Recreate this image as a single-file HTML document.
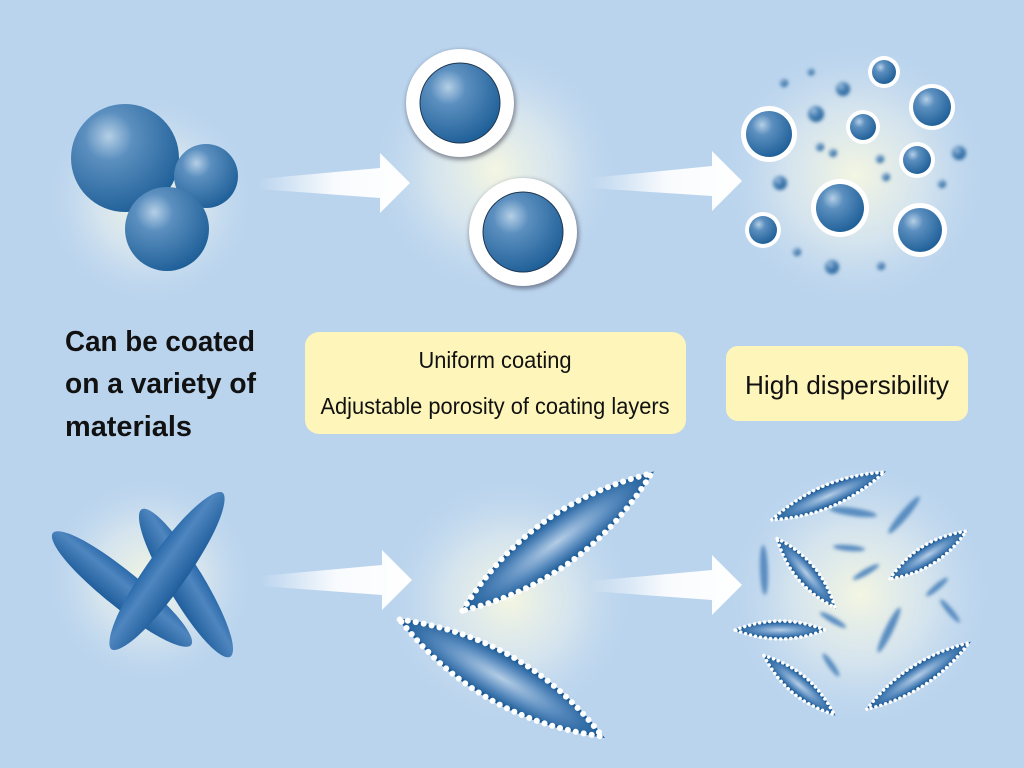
<!DOCTYPE html>
<html><head><meta charset="utf-8"><style>
html,body{margin:0;padding:0;width:1024px;height:768px;overflow:hidden;background:#bad4ee}
svg{display:block}
text{font-family:"Liberation Sans",sans-serif}
</style></head><body>
<svg width="1024" height="768" viewBox="0 0 1024 768" xmlns="http://www.w3.org/2000/svg">
<defs>
<radialGradient id="sph" cx="0.35" cy="0.3" r="0.75">
<stop offset="0" stop-color="#b5cfe6"/><stop offset="0.3" stop-color="#5b8fbf"/><stop offset="1" stop-color="#1d5e97"/>
</radialGradient>
<radialGradient id="rod" cx="0.5" cy="0.5" r="0.5">
<stop offset="0" stop-color="#b4cde6"/><stop offset="0.55" stop-color="#5b8dc0"/><stop offset="1" stop-color="#1c5c98"/>
</radialGradient>
<linearGradient id="rodb" x1="0" y1="0" x2="0" y2="1">
<stop offset="0" stop-color="#2a6aab"/><stop offset="0.35" stop-color="#4f86bf"/><stop offset="1" stop-color="#1f5e9c"/>
</linearGradient>
<radialGradient id="glow" cx="0.5" cy="0.5" r="0.5">
<stop offset="0" stop-color="#f4f6e2"/><stop offset="0.5" stop-color="#dfeaee" stop-opacity="0.7"/><stop offset="1" stop-color="#bad4ee" stop-opacity="0"/>
</radialGradient>
<linearGradient id="arr" x1="0" x2="1" y1="0" y2="0">
<stop offset="0" stop-color="#fff" stop-opacity="0"/><stop offset="0.5" stop-color="#fff" stop-opacity="0.9"/><stop offset="1" stop-color="#fff"/>
</linearGradient>
<filter id="bl" x="-50%" y="-50%" width="200%" height="200%"><feGaussianBlur stdDeviation="1.8"/></filter>
<filter id="sh" x="-30%" y="-30%" width="160%" height="160%"><feGaussianBlur stdDeviation="2"/></filter>
</defs>

<circle cx="150" cy="200" r="110" fill="url(#glow)"/>
<circle cx="495" cy="170" r="130" fill="url(#glow)"/>
<circle cx="855" cy="175" r="140" fill="url(#glow)"/>
<circle cx="150" cy="580" r="110" fill="url(#glow)"/>
<circle cx="510" cy="600" r="130" fill="url(#glow)"/>
<circle cx="860" cy="595" r="140" fill="url(#glow)"/>

<g fill="url(#arr)">
<polygon points="258,179 380,168 380,153 410,183 380,213 380,198 258,189"/>
<polygon points="590,178 712,166 712,151 742,181 712,211 712,196 590,188"/>
<polygon points="260,576 382,565 382,550 412,580 382,610 382,595 260,586"/>
<polygon points="590,581 712,570 712,555 742,585 712,615 712,600 590,591"/>
</g>

<circle cx="125" cy="158" r="54" fill="url(#sph)"/>
<circle cx="206" cy="176" r="32" fill="url(#sph)"/>
<circle cx="167" cy="229" r="42" fill="url(#sph)"/>

<g>
<circle cx="461" cy="105" r="55" fill="#334" filter="url(#sh)" opacity="0.5"/>
<circle cx="460" cy="103" r="54" fill="#fff"/>
<circle cx="460" cy="103" r="40.5" fill="#1d3550"/>
<circle cx="460" cy="103" r="39.5" fill="url(#sph)"/>
<circle cx="524" cy="234" r="55" fill="#334" filter="url(#sh)" opacity="0.5"/>
<circle cx="523" cy="232" r="54" fill="#fff"/>
<circle cx="523" cy="232" r="40.5" fill="#1d3550"/>
<circle cx="523" cy="232" r="39.5" fill="url(#sph)"/>
</g>

<g fill="url(#sph)" filter="url(#bl)">
<circle cx="811" cy="72" r="3.5"/><circle cx="784" cy="83" r="4"/><circle cx="843" cy="89" r="7"/>
<circle cx="816" cy="114" r="8"/><circle cx="820" cy="147" r="4"/><circle cx="833" cy="153" r="4"/>
<circle cx="880" cy="159" r="4"/><circle cx="886" cy="177" r="4"/><circle cx="959" cy="153" r="7"/>
<circle cx="942" cy="184" r="4"/><circle cx="780" cy="183" r="7"/><circle cx="797" cy="252" r="4"/>
<circle cx="832" cy="267" r="7"/><circle cx="881" cy="266" r="4"/>
</g>
<g>
<circle cx="769" cy="134" r="28" fill="#fff"/><circle cx="769" cy="134" r="23" fill="url(#sph)"/>
<circle cx="884" cy="72" r="16" fill="#fff"/><circle cx="884" cy="72" r="12" fill="url(#sph)"/>
<circle cx="932" cy="107" r="23" fill="#fff"/><circle cx="932" cy="107" r="19" fill="url(#sph)"/>
<circle cx="863" cy="127" r="17" fill="#fff"/><circle cx="863" cy="127" r="13" fill="url(#sph)"/>
<circle cx="917" cy="160" r="18" fill="#fff"/><circle cx="917" cy="160" r="14" fill="url(#sph)"/>
<circle cx="840" cy="208" r="29" fill="#fff"/><circle cx="840" cy="208" r="24" fill="url(#sph)"/>
<circle cx="920" cy="230" r="27" fill="#fff"/><circle cx="920" cy="230" r="22" fill="url(#sph)"/>
<circle cx="763" cy="230" r="18" fill="#fff"/><circle cx="763" cy="230" r="14" fill="url(#sph)"/>
</g>

<g font-weight="bold" font-size="29" fill="#111">
<text x="65" y="351" textLength="190" lengthAdjust="spacingAndGlyphs">Can be coated</text>
<text x="65" y="393" textLength="191" lengthAdjust="spacingAndGlyphs">on a variety of</text>
<text x="65" y="436" textLength="127" lengthAdjust="spacingAndGlyphs">materials</text>
</g>
<rect x="305" y="332" width="381" height="102" rx="14" fill="#fdf5b9"/>
<text x="495" y="368" font-size="23" text-anchor="middle" fill="#111" textLength="153" lengthAdjust="spacingAndGlyphs">Uniform coating</text>
<text x="495" y="414" font-size="23" text-anchor="middle" fill="#111" textLength="349" lengthAdjust="spacingAndGlyphs">Adjustable porosity of coating layers</text>
<rect x="726" y="346" width="242" height="75" rx="12" fill="#fdf5b9"/>
<text x="847" y="394" font-size="26" text-anchor="middle" fill="#111" textLength="204" lengthAdjust="spacingAndGlyphs">High dispersibility</text>

<g fill="url(#rodb)">
<path transform="translate(122 589) rotate(39)" d="M-89,0 C-89,-8 -62,-18 0,-18 C62,-18 89,-8 89,0 C89,8 62,18 0,18 C-62,18 -89,8 -89,0Z"/>
<path transform="translate(186 583) rotate(59)" d="M-86,0 C-86,-8 -60,-18 0,-18 C60,-18 86,-8 86,0 C86,8 60,18 0,18 C-60,18 -86,8 -86,0Z"/>
<path transform="translate(167 571) rotate(-54.7)" d="M-96,0 C-96,-8 -66,-20 0,-20 C66,-20 96,-8 96,0 C96,8 66,20 0,20 C-66,20 -96,8 -96,0Z"/>
</g>

<g>
<g transform="translate(557 542) rotate(-36)">
<path d="M-116,0 Q-58,-23 0,-23 Q58,-23 116,0 Q58,23 0,23 Q-58,23 -116,0Z" fill="url(#rod)" stroke="#1c5a97" stroke-width="3"/>
<path d="M-117,0 Q-58,-24 0,-24 Q58,-24 117,0 Q58,24 0,24 Q-58,24 -117,0Z" fill="none" stroke="#fff" stroke-width="6" stroke-dasharray="0.1 8" stroke-linecap="round"/>
</g>
<g transform="translate(501 678) rotate(30)">
<path d="M-116,0 Q-58,-23 0,-23 Q58,-23 116,0 Q58,23 0,23 Q-58,23 -116,0Z" fill="url(#rod)" stroke="#1c5a97" stroke-width="3"/>
<path d="M-117,0 Q-58,-24 0,-24 Q58,-24 117,0 Q58,24 0,24 Q-58,24 -117,0Z" fill="none" stroke="#fff" stroke-width="6" stroke-dasharray="0.1 8" stroke-linecap="round"/>
</g>
</g>

<g fill="#5a8dc1" filter="url(#bl)">
<ellipse cx="853" cy="512" rx="24" ry="4" transform="rotate(8 853 512)"/>
<ellipse cx="904" cy="515" rx="24" ry="4" transform="rotate(-50 904 515)"/>
<ellipse cx="849" cy="548" rx="16" ry="3" transform="rotate(5 849 548)"/>
<ellipse cx="866" cy="572" rx="15" ry="3" transform="rotate(-30 866 572)"/>
<ellipse cx="764" cy="570" rx="25" ry="4" transform="rotate(88 764 570)"/>
<ellipse cx="937" cy="587" rx="14" ry="3" transform="rotate(-40 937 587)"/>
<ellipse cx="950" cy="611" rx="15" ry="3" transform="rotate(50 950 611)"/>
<ellipse cx="833" cy="620" rx="15" ry="3" transform="rotate(30 833 620)"/>
<ellipse cx="889" cy="630" rx="25" ry="4" transform="rotate(-64 889 630)"/>
<ellipse cx="831" cy="665" rx="14" ry="3" transform="rotate(55 831 665)"/>
</g>
<g>
<g transform="translate(828 496) rotate(-23)"><path d="M-60,0 Q-30,-10 0,-10 Q30,-10 60,0 Q30,10 0,10 Q-30,10 -60,0Z" fill="url(#rod)" stroke="#1c5a97" stroke-width="2"/><path d="M-61,0 Q-30,-11 0,-11 Q30,-11 61,0 Q30,11 0,11 Q-30,11 -61,0Z" fill="none" stroke="#fff" stroke-width="3.5" stroke-dasharray="0.1 5" stroke-linecap="round"/></g>
<g transform="translate(806 573) rotate(50)"><path d="M-44,0 Q-22,-9 0,-9 Q22,-9 44,0 Q22,9 0,9 Q-22,9 -44,0Z" fill="url(#rod)" stroke="#1c5a97" stroke-width="2"/><path d="M-45,0 Q-22,-10 0,-10 Q22,-10 45,0 Q22,10 0,10 Q-22,10 -45,0Z" fill="none" stroke="#fff" stroke-width="3.5" stroke-dasharray="0.1 5" stroke-linecap="round"/></g>
<g transform="translate(928 555) rotate(-32)"><path d="M-44,0 Q-22,-9 0,-9 Q22,-9 44,0 Q22,9 0,9 Q-22,9 -44,0Z" fill="url(#rod)" stroke="#1c5a97" stroke-width="2"/><path d="M-45,0 Q-22,-10 0,-10 Q22,-10 45,0 Q22,10 0,10 Q-22,10 -45,0Z" fill="none" stroke="#fff" stroke-width="3.5" stroke-dasharray="0.1 5" stroke-linecap="round"/></g>
<g transform="translate(780 630)"><path d="M-44,0 Q-22,-8 0,-8 Q22,-8 44,0 Q22,8 0,8 Q-22,8 -44,0Z" fill="url(#rod)" stroke="#1c5a97" stroke-width="2"/><path d="M-45,0 Q-22,-9 0,-9 Q22,-9 45,0 Q22,9 0,9 Q-22,9 -45,0Z" fill="none" stroke="#fff" stroke-width="3.5" stroke-dasharray="0.1 5" stroke-linecap="round"/></g>
<g transform="translate(799 685) rotate(40)"><path d="M-45,0 Q-22,-9 0,-9 Q22,-9 45,0 Q22,9 0,9 Q-22,9 -45,0Z" fill="url(#rod)" stroke="#1c5a97" stroke-width="2"/><path d="M-46,0 Q-22,-10 0,-10 Q22,-10 46,0 Q22,10 0,10 Q-22,10 -46,0Z" fill="none" stroke="#fff" stroke-width="3.5" stroke-dasharray="0.1 5" stroke-linecap="round"/></g>
<g transform="translate(918 676) rotate(-33)"><path d="M-60,0 Q-30,-10 0,-10 Q30,-10 60,0 Q30,10 0,10 Q-30,10 -60,0Z" fill="url(#rod)" stroke="#1c5a97" stroke-width="2"/><path d="M-61,0 Q-30,-11 0,-11 Q30,-11 61,0 Q30,11 0,11 Q-30,11 -61,0Z" fill="none" stroke="#fff" stroke-width="3.5" stroke-dasharray="0.1 5" stroke-linecap="round"/></g>
</g>
</svg>
</body></html>
